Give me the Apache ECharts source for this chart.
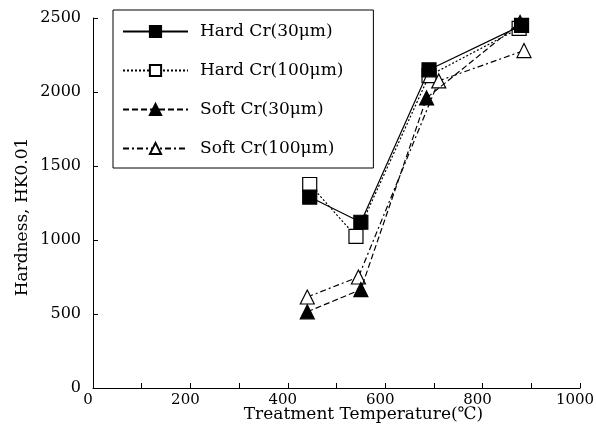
<!DOCTYPE html>
<html>
<head>
<meta charset="utf-8">
<script src="https://cdn.jsdelivr.net/npm/echarts@6/dist/echarts.min.js"></script>
<style>
  html, body { margin: 0; padding: 0; background: #fff; }
  #chart { width: 596px; height: 446px; }
</style>
</head>
<body>
<div id="chart"></div>
<script>
// temperatures (℃) and hardness (HK0.01)
const hard30Temp = [445, 550, 690, 880];
const hard30 = [1290, 1120, 2150, 2450];
const hard100Temp = [445, 540, 690, 875];
const hard100 = [1375, 1025, 2110, 2430];
const soft30Temp = [440, 550, 685, 877];
const soft30 = [515, 665, 1960, 2470];
const soft100Temp = [440, 545, 710, 885];
const soft100 = [615, 750, 2075, 2280];

const seriesNames = ['Hard Cr(30μm)', 'Hard Cr(100μm)', 'Soft Cr(30μm)', 'Soft Cr(100μm)'];

const font = 'DejaVu Serif';

function pairs(xs, ys) {
  return xs.map((x, i) => [x, ys[i]]);
}

function makeSeries(name, xs, ys, symbol, fill, dash) {
  return {
    name: name,
    type: 'line',
    data: pairs(xs, ys),
    symbol: symbol,
    symbolSize: 14,
    lineStyle: { color: '#000', width: 1.2, type: dash },
    itemStyle: { color: fill, borderColor: '#000', borderWidth: 1.2 },
    emphasis: { disabled: true },
    z: fill === '#000' ? 3 : 2
  };
}

const chart = echarts.init(document.getElementById('chart'));
chart.setOption({
  backgroundColor: '#fff',
  animation: false,
  grid: { left: 93, right: 16, top: 18, bottom: 58, outerBoundsMode: 'none', containLabel: false },
  legend: {
    orient: 'vertical',
    left: 113,
    top: 10,
    data: seriesNames,
    itemWidth: 65,
    itemHeight: 14,
    itemGap: 22,
    padding: [13, 30, 11, 9],
    borderColor: '#000',
    borderWidth: 1,
    backgroundColor: '#fff',
    textStyle: { fontFamily: font, fontSize: 17, color: '#000', padding: [0, 0, 0, 7] }
  },
  xAxis: {
    type: 'value',
    min: 0,
    max: 1000,
    interval: 100,
    name: 'Treatment Temperature(℃)',
    nameLocation: 'middle',
    nameMoveOverlap: false,
    nameGap: 18,
    nameTextStyle: { fontFamily: font, fontSize: 17, color: '#000', padding: [0, 0, 0, 54] },
    axisLine: { lineStyle: { color: '#000', width: 1 } },
    axisTick: { inside: true, length: 5, lineStyle: { color: '#000' } },
    axisLabel: {
      margin: 5,
      fontFamily: font, fontSize: 15, color: '#000',
      padding: [0, 10, 0, 0],
      formatter: v => (v % 200 === 0 ? String(v) : '')
    },
    splitLine: { show: false }
  },
  yAxis: {
    type: 'value',
    min: 0,
    max: 2500,
    interval: 500,
    name: 'Hardness, HK0.01',
    nameLocation: 'middle',
    nameMoveOverlap: false,
    nameGap: 62,
    nameTextStyle: { fontFamily: font, fontSize: 17, color: '#000', padding: [0, 28, 0, 0] },
    axisLine: { show: true, lineStyle: { color: '#000', width: 1 } },
    axisTick: { show: true, inside: true, length: 5, lineStyle: { color: '#000' } },
    axisLabel: { margin: 12, fontFamily: font, fontSize: 16, color: '#000', formatter: v => String(v) },
    splitLine: { show: false }
  },
  series: [
    makeSeries(seriesNames[0], hard30Temp, hard30, 'rect', '#000', 'solid'),
    makeSeries(seriesNames[1], hard100Temp, hard100, 'rect', '#fff', [2, 2]),
    makeSeries(seriesNames[2], soft30Temp, soft30, 'triangle', '#000', [6, 3]),
    makeSeries(seriesNames[3], soft100Temp, soft100, 'triangle', '#fff', [6, 3, 2, 3])
  ]
});
</script>
</body>
</html>
